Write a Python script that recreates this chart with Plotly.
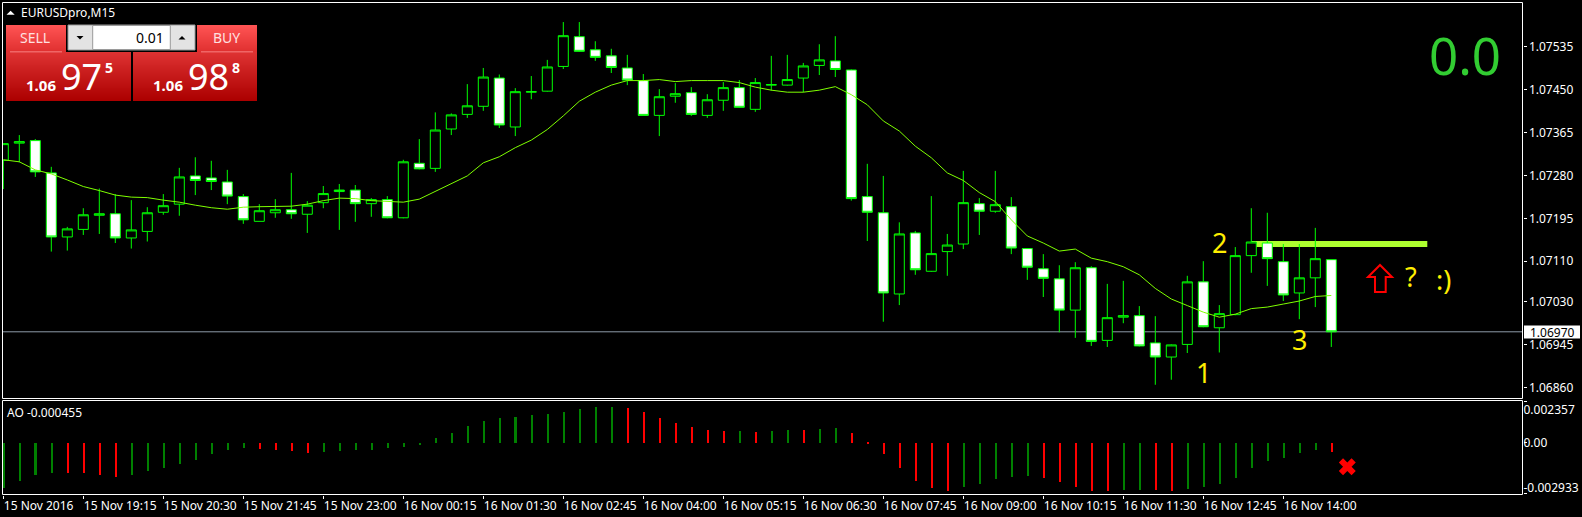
import plotly.graph_objects as go

W, H = 1582, 517

# ---------- data (prices in 1e-5 units) ----------
opens = [107310,107344,107349,107285,107158,107173,107201,107204,107156,107169,107207,107223,107279,107275,107267,107238,
         107189,107206,107212,107203,107226,107248,107251,107224,107232,107196,107304,107294,107372,107401,107417,107473,
         107376,107445,107447,107496,107555,107529,107517,107493,107468,107399,107437,107444,107399,107429,107454,107411,
         107459,107459,107473,107498,107507,107489,107238,107206,107045,107166,107090,107129,107144,107224,107209,107218,
         107135,107095,107075,107013,107097,106953,106999,107002,106948,106920,106945,107069,106978,107004,107121,107146,
         107109,107047,107077,107113]
highs = [107343,107360,107352,107297,107178,107215,107254,107243,107231,107217,107243,107295,107316,107309,107291,107243,
         107223,107233,107285,107229,107259,107263,107261,107235,107239,107311,107352,107405,107403,107461,107493,107480,
         107453,107477,107509,107584,107584,107546,107531,107519,107481,107451,107463,107455,107441,107465,107469,107473,
         107517,107519,107503,107540,107556,107490,107303,107279,107187,107170,107239,107164,107289,107235,107289,107237,
         107136,107124,107102,107108,107100,107065,107071,107021,107001,106945,107081,107110,107023,107138,107215,107206,
         107144,107144,107176,107113]
lows = [107253,107306,107277,107129,107131,107162,107164,107146,107135,107149,107202,107200,107241,107251,107223,107184,
        107189,107196,107194,107166,107215,107172,107188,107198,107195,107195,107292,107287,107360,107394,107408,107374,
        107358,107431,107446,107491,107525,107507,107483,107459,107398,107358,107424,107398,107394,107408,107414,107406,
        107448,107458,107445,107479,107475,107230,107150,106990,107023,107083,107089,107081,107134,107162,107206,107124,
        107073,107039,106969,106958,106942,106940,106987,106941,106865,106875,106928,106979,106929,107003,107087,107061,
        107031,106995,107019,106940]
closes = [107343,107347,107287,107158,107174,107202,107204,107156,107172,107206,107220,107277,107270,107268,107239,107192,
          107210,107212,107204,107221,107244,107251,107224,107232,107196,107307,107293,107370,107400,107418,107475,107380,
          107446,107446,107495,107557,107526,107514,107494,107469,107399,107436,107442,107401,107430,107454,107415,107464,
          107460,107470,107497,107509,107490,107234,107207,107047,107164,107093,107125,107142,107226,107209,107222,107136,
          107098,107076,107013,107097,106951,106998,107002,106942,106920,106944,107069,106980,107006,107121,107148,107115,
          107043,107077,107115,106970]
ma_values = [107311,107307,107291,107283,107271,107258,107250,107241,107237,107236,107231,107227,107221,107216,107213,107217,
             107218,107219,107219,107223,107230,107235,107234,107230,107228,107227,107233,107248,107263,107279,107305,107317,
             107335,107350,107371,107398,107427,107445,107459,107468,107468,107470,107466,107468,107468,107468,107464,107455,
             107449,107445,107445,107449,107456,107440,107420,107388,107368,107338,107315,107285,107270,107246,107228,107192,
             107160,107146,107130,107134,107116,107109,107099,107083,107056,107035,107022,107009,106999,107005,107016,107019,
             107025,107031,107040,107042]
# Awesome Oscillator, 1e-6 units
ao_values = [-2804,-2400,-2018,-1848,-1890,-1890,-2018,-2103,-2018,-1763,-1572,-1317,-1083,-680,-425,-297,
             -361,-425,-489,-616,-552,-489,-425,-425,-297,-234,-64,319,637,1083,1402,1593,
             1657,1784,1848,1975,2166,2294,2294,2230,1975,1593,1274,1020,828,765,765,701,
             765,828,828,892,956,637,42,-701,-1529,-2358,-2804,-2995,-2740,-2549,-2230,-2103,
             -2039,-2166,-2421,-2740,-2995,-2995,-2931,-2931,-2931,-2995,-2867,-2740,-2549,-2166,-1529,-1147,
             -956,-637,-446,-573]
ao_red = [4,5,6,7,16,17,18,19,39,40,41,42,43,44,45,47,50,53,54,55,56,57,58,59,65,66,67,68,69,72,73,83]

price_ticks = [1.07535,1.07450,1.07365,1.07280,1.07195,1.07110,1.07030,1.06945,1.06860]
time_labels = ["15 Nov 2016","15 Nov 19:15","15 Nov 20:30","15 Nov 21:45","15 Nov 23:00","16 Nov 00:15",
               "16 Nov 01:30","16 Nov 02:45","16 Nov 04:00","16 Nov 05:15","16 Nov 06:30","16 Nov 07:45",
               "16 Nov 09:00","16 Nov 10:15","16 Nov 11:30","16 Nov 12:45","16 Nov 14:00"]
last_price = 1.06970
level_price = 1.07144
level_span = [78, 89]
ao_cross = (84, -0.001508)

# ---------- helpers ----------
FONT = "Noto Sans"
def X(p): return p / W
def Y(p): return 1 - p / H
idx = list(range(len(opens)))
scale = lambda a: [v / 1e5 for v in a]

shapes, ann = [], []
def rect(x0, y0, x1, y1, fill, line=None, lw=0):
    shapes.append(dict(type="rect", xref="paper", yref="paper", x0=X(x0), x1=X(x1), y0=Y(y0), y1=Y(y1),
                       fillcolor=fill, line=dict(color=line or fill, width=lw), layer="above"))
def poly(pts, fill=None, line=None, lw=0):
    path = "M" + "L".join(f"{X(a):.5f},{Y(b):.5f}" for a, b in pts) + "Z"
    shapes.append(dict(type="path", xref="paper", yref="paper", path=path, fillcolor=fill or "rgba(0,0,0,0)",
                       line=dict(color=line or "rgba(0,0,0,0)", width=lw), layer="above"))
def text(x, y, s, size=12, color="white", anchor="center", bold=False, font=FONT, bg=None):
    ann.append(dict(xref="paper", yref="paper", x=X(x), y=Y(y), text=f"<b>{s}</b>" if bold else s, showarrow=False,
                    xanchor=anchor, yanchor="middle", borderpad=0, borderwidth=0, bgcolor=bg,
                    font=dict(family=font, size=size, color=color)))
def mix(a, b, t):
    return "rgb(%d,%d,%d)" % tuple(round(a[i] + (b[i] - a[i]) * t) for i in range(3))
def gradient(x0, y0, x1, y1, top, bottom):
    rows = int(y1 - y0)
    for i in range(rows):
        rect(x0, y0 + i, x1, y1, mix(top, bottom, i / max(rows - 1, 1)))

# ---------- panel geometry ----------
L, R = 2.5, 1522.5
M_T, M_B = 2.5, 398.5
A_T, A_B = 400.5, 494.5
x_at = lambda p: (p - 3.3) / 16
p_at = lambda p: 1.06860 + (387.3 - p) / 50448
a_at = lambda p: (442.7 - p) / 15917

# frames
for top, bot in ((M_T, M_B), (A_T, A_B)):
    shapes.append(dict(type="rect", xref="paper", yref="paper", x0=X(L), x1=X(R), y0=Y(top), y1=Y(bot),
                       line=dict(color="white", width=1), layer="above"))

# current price line and label
shapes.append(dict(type="line", xref="paper", yref="y", x0=X(L), x1=X(R), y0=last_price, y1=last_price,
                   line=dict(color="#8d9aa8", width=1), layer="below"))
rect(1524, 325.5, 1580, 338.5, "white")
text(1529.5, 332.2, "1.06970", 12, "black", "left")

# thick horizontal level, under the candles
shapes.append(dict(type="line", xref="x", yref="y", x0=level_span[0], x1=level_span[1], y0=level_price, y1=level_price,
                   line=dict(color="#adff2f", width=6), layer="below"))

# title
poly([(6.5, 14.7), (14.7, 14.7), (10.6, 10.7)], fill="white")
text(21, 12.7, "EURUSDpro,M15", 12, "white", "left")

# trade panel
gradient(6, 25, 66, 52, (255, 84, 84), (224, 48, 48))
gradient(197, 25, 257, 52, (255, 84, 84), (224, 48, 48))
gradient(6, 52, 131, 101, (222, 50, 50), (172, 0, 0))
gradient(133, 52, 257, 101, (222, 50, 50), (172, 0, 0))
rect(10, 51.5, 62, 52.2, "#ff9a9a")
rect(201, 51.5, 253, 52.2, "#ff9a9a")
rect(66, 25, 197, 52, "black")
rect(68, 25, 195, 50, "#e3e3e3", "#9a9a9a", 1)
rect(92.7, 25.5, 170.3, 49.5, "white", "#9a9a9a", 1)
poly([(76.5, 36), (83.5, 36), (80, 39.5)], fill="black")
poly([(178.5, 39.5), (185.5, 39.5), (182, 36)], fill="black")
text(163.5, 38, "0.01", 14, "black", "right")
text(35, 38, "SELL", 14, "#ffe0e0")
text(226.7, 38, "BUY", 14, "#ffe0e0")
text(56, 85, "1.06", 15, "white", "right", True)
text(60.5, 76.5, "97", 36, "white", "left")
text(105, 67, "5", 14, "white", "left", True)
text(182.5, 85, "1.06", 15, "white", "right", True)
text(187.5, 76.5, "98", 36, "white", "left")
text(232, 67, "8", 14, "white", "left", True)

# hand annotations
text(1501, 55, "0.0", 51, "#32cd32", "right")
YELLOW = "#ffee00"
text(1203, 372, "1", 27, YELLOW)
text(1219.6, 243, "2", 27, YELLOW)
text(1299.6, 339, "3", 27, YELLOW)
text(1410.7, 276, "?", 27, YELLOW)
text(1443.5, 279, ":)", 27, YELLOW)
poly([(1380, 265), (1368, 277), (1375, 277), (1375, 292), (1385.7, 292), (1385.7, 277), (1392, 277)],
     line="#ff0000", lw=2)
text(7.4, 412, "AO -0.000455", 12, "white", "left")

# ---------- figure ----------
fig = go.Figure()
fig.add_trace(go.Candlestick(x=idx, open=scale(opens), high=scale(highs), low=scale(lows), close=scale(closes),
                             xaxis="x", yaxis="y", whiskerwidth=0, showlegend=False,
                             increasing=dict(line=dict(color="#00ff00", width=1), fillcolor="black"),
                             decreasing=dict(line=dict(color="#00ff00", width=1), fillcolor="white")))
fig.add_trace(go.Scatter(x=idx, y=scale(ma_values), mode="lines", xaxis="x", yaxis="y",
                         line=dict(color="#7fff00", width=1), hoverinfo="skip", showlegend=False))
ao_colors = ["#ff0000" if i in ao_red else "#008000" for i in idx]
fig.add_trace(go.Bar(x=idx, y=[v * 1e-6 for v in ao_values], width=0.125, xaxis="x", yaxis="y2",
                     marker=dict(color=ao_colors, line=dict(width=0)), showlegend=False))
fig.add_trace(go.Scatter(x=[ao_cross[0]], y=[ao_cross[1]], mode="markers", xaxis="x", yaxis="y2", showlegend=False,
                         marker=dict(symbol="x", size=15, color="#ff0000", line=dict(width=0))))

fig.update_layout(
    width=W, height=H, margin=dict(l=0, r=0, t=0, b=0), autosize=False,
    paper_bgcolor="black", plot_bgcolor="black", boxgap=0.375, boxgroupgap=0, bargap=0, showlegend=False,
    font=dict(family=FONT, size=12, color="white"), shapes=shapes, annotations=ann,
    xaxis=dict(domain=[X(L), X(R)], range=[x_at(L), x_at(R)], anchor="y2", showgrid=False, zeroline=False,
               showline=False, rangeslider=dict(visible=False), tickmode="array",
               tickvals=[5 * i for i in range(len(time_labels))], ticktext=time_labels,
               ticks="outside", ticklen=3, tickcolor="white", ticklabelposition="outside right", tickangle=0,
               tickfont=dict(family=FONT, size=12, color="white")),
    yaxis=dict(domain=[Y(M_B), Y(M_T)], range=[p_at(M_B), p_at(M_T)], anchor="x", side="right", showgrid=False,
               zeroline=False, showline=False, tickmode="array", tickvals=price_ticks,
               ticktext=[f"{t:.5f}" for t in price_ticks], ticks="outside", ticklen=3, tickcolor="white",
               tickfont=dict(family=FONT, size=12, color="white")),
    yaxis2=dict(domain=[Y(A_B), Y(A_T)], range=[a_at(A_B), a_at(A_T)], anchor="x", side="right", showgrid=False,
                zeroline=False, showline=False, tickmode="array", tickvals=[a_at(409.6), 0, a_at(487.4)],
                ticktext=["0.002357", "0.00", "-0.002933"], ticks="", ticklen=0,
                minor=dict(tickmode="array", tickvals=[a_at(401.5), 0, a_at(493.5)], ticks="outside",
                           ticklen=3, tickcolor="white", showgrid=False),
                tickfont=dict(family=FONT, size=12, color="white")),
)
fig.write_html("out.html", config={"displayModeBar": False},
               post_script="document.body.style.margin='0';document.documentElement.style.overflow='hidden';document.documentElement.style.background='black';")
